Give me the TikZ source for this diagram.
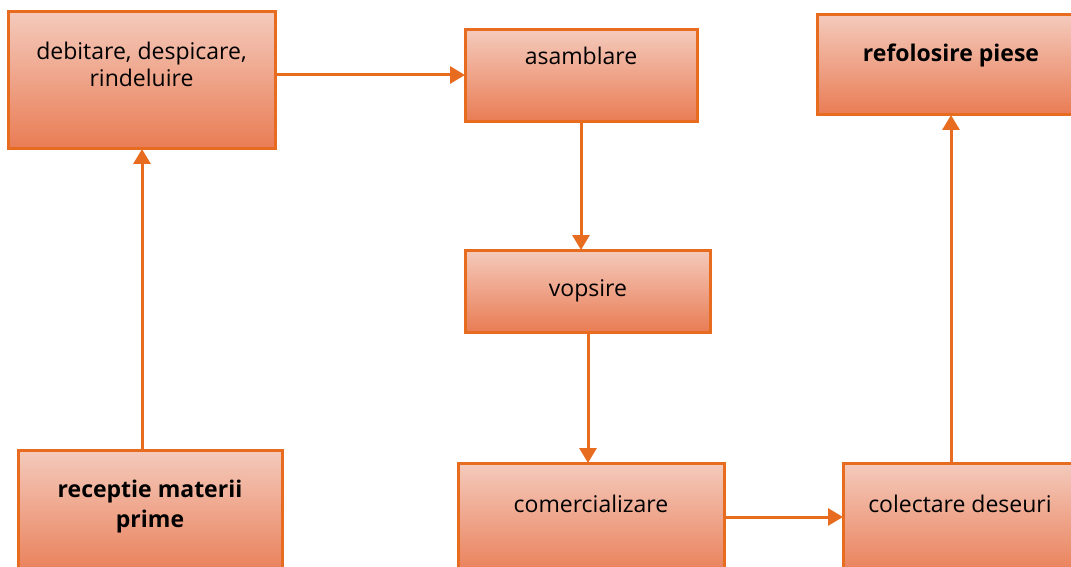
\documentclass[tikz,border=0pt]{standalone}
\usepackage{fontspec}
\setmainfont{Open Sans}
\usetikzlibrary{arrows.meta}
\definecolor{bord}{RGB}{232,108,32}
\definecolor{topc}{RGB}{244,202,188}
\definecolor{botc}{RGB}{233,124,84}
\tikzset{
  box/.style={draw=bord, line width=3pt, top color=topc, bottom color=botc},
  lbl/.style={font=\fontsize{23}{27}\selectfont, align=center, text=black, inner sep=0pt},
  blbl/.style={lbl, font=\fontsize{23}{30}\selectfont\bfseries},
  conn/.style={draw=bord, line width=3pt, -{Triangle[width=17pt,length=15pt]}}
}
\begin{document}
\begin{tikzpicture}[x=1pt,y=-1pt]
\useasboundingbox (0,0) rectangle (1071,567);
\clip (0,0) rectangle (1071,567);
% boxes
\path[box] (8,12) rectangle (275,149);
\path[box] (465,30) rectangle (697,122);
\path[box] (817,15) rectangle (1080,115);
\path[box] (465,250) rectangle (710,332);
\path[box] (18,450) rectangle (282,580);
\path[box] (458,463) rectangle (724,580);
\path[box] (843,463) rectangle (1080,580);
% anchor coordinates
\coordinate (b1r) at (275,75);
\coordinate (b1b) at (142,149);
\coordinate (b2l) at (465,75);
\coordinate (b2b) at (581,122);
\coordinate (b3b) at (951,115);
\coordinate (b4t) at (581,250);
\coordinate (b4b) at (588,332);
\coordinate (b5t) at (142,450);
\coordinate (b6t) at (588,463);
\coordinate (b6r) at (724,517);
\coordinate (b7l) at (843,517);
\coordinate (b7t) at (951,463);
% labels
\node[lbl] (t1) at (141.5,64) {debitare, despicare,\\rindeluire};
\node[lbl] (t2) at (581,56) {asamblare};
\node[blbl] (t3) at (951,55) {refolosire piese};
\node[lbl] (t4) at (588,291) {vopsire};
\node[blbl] (t5) at (150,507) {receptie materii\\prime};
\node[lbl] (t6) at (591,504) {comercializare};
\node[lbl] (t7) at (960,504) {colectare deseuri};
% connectors
\draw[conn] (b1r) -- (b2l);
\draw[conn] (b5t) -- (b1b);
\draw[conn] (b2b) -- (b4t);
\draw[conn] (b4b) -- (b6t);
\draw[conn] (b6r) -- (b7l);
\draw[conn] (b7t) -- (b3b);
\end{tikzpicture}
\end{document}
